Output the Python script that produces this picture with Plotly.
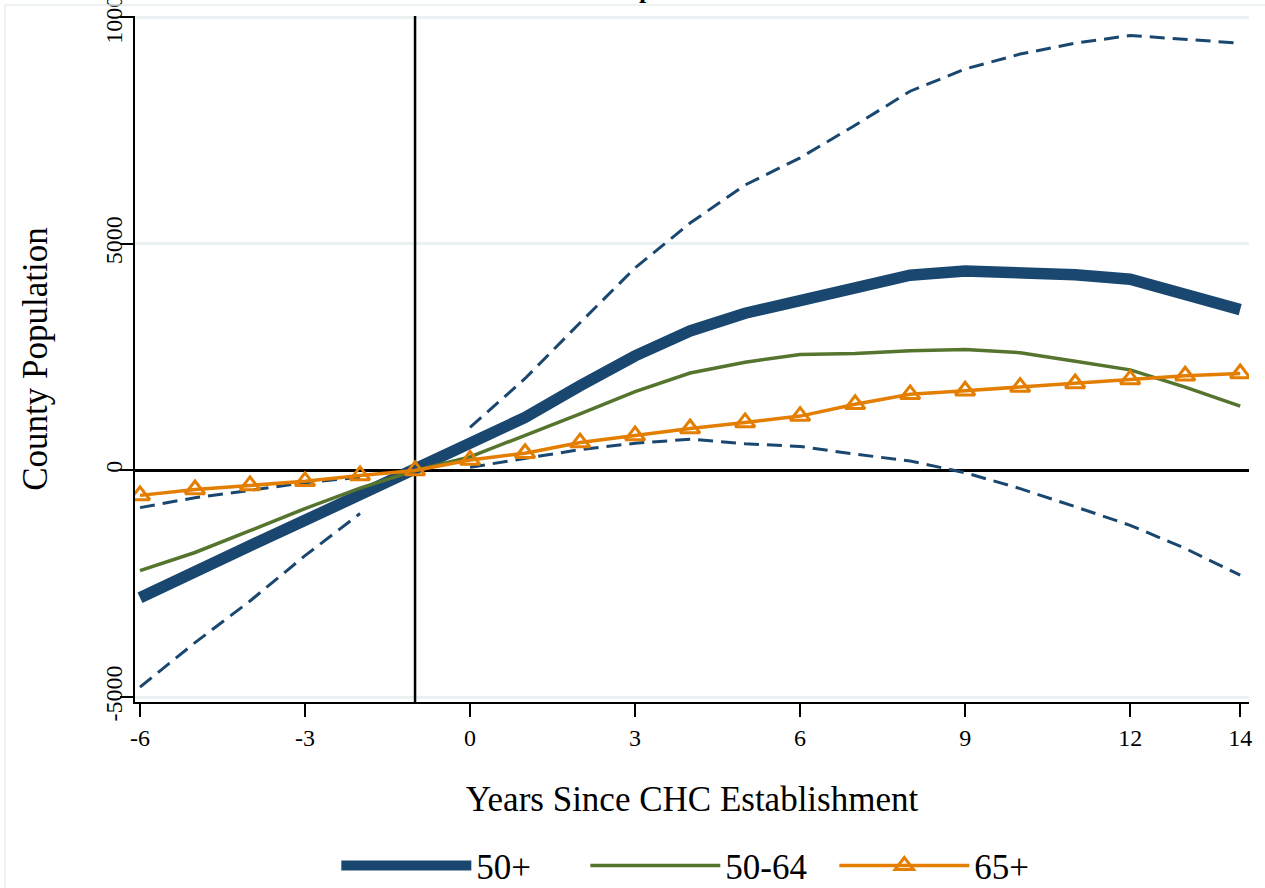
import plotly.graph_objects as go

# Event-study estimates: change in county population by years since CHC establishment
years = list(range(-6, 15))

pop_50plus = [-2810, -2210, -1660, -1100, -550, 0, 560, 1170, 1870, 2530, 3080,
              3470, 3750, 4000, 4310, 4400, 4390, 4320, 4220, 3910, 3550]
pop_50_64 = [-2210, -1810, -1330, -840, -390, 0, 300, 770, 1250, 1740, 2150,
             2390, 2560, 2580, 2640, 2670, 2600, 2410, 2220, 1840, 1420]
pop_65plus = [-550, -420, -330, -240, -110, 0, 230, 380, 615, 770, 925,
              1060, 1200, 1460, 1680, 1760, 1840, 1920, 2010, 2090, 2140]

# 95% confidence bounds for the 50+ estimate (reference year -1 omitted)
ci_upper = [-820, -600, -440, -270, -150, None, 950, 2030, 3260, 4470, 5460,
            6300, 6900, 7620, 8370, 8860, 9190, 9430, 9600, 9520, 9430]
ci_lower = [-4780, -3800, -2880, -1880, -950, None, 70, 260, 460, 600, 690,
            590, 530, 360, 210, -50, -400, -800, -1210, -1720, -2310]

ref_year = -1
x_range = [-6.091, 14.16]
y_range = [-5110, 10030]
x_ticks = [-6, -3, 0, 3, 6, 9, 12, 14]
y_ticks = [-5000, 0, 5000, 10000]

NAVY = "#1a476f"
GREEN = "#55752f"
ORANGE = "#e37e00"
GRID = "#e9f1f2"
SERIF = "Liberation Serif, Times New Roman, serif"

fig = go.Figure()

# Vertical marker for the year before establishment
fig.add_trace(go.Scatter(x=[ref_year, ref_year], y=y_range, mode="lines",
                         showlegend=False, hoverinfo="skip",
                         line=dict(color="black", width=2.5)))

fig.add_trace(go.Scatter(x=years, y=pop_50plus, mode="lines", name="50+",
                         line=dict(color=NAVY, width=11.5)))
fig.add_trace(go.Scatter(x=years, y=ci_upper, mode="lines", showlegend=False,
                         connectgaps=False,
                         line=dict(color=NAVY, width=3, dash="15px,8px")))
fig.add_trace(go.Scatter(x=years, y=ci_lower, mode="lines", showlegend=False,
                         connectgaps=False,
                         line=dict(color=NAVY, width=3, dash="15px,8px")))
fig.add_trace(go.Scatter(x=years, y=pop_50_64, mode="lines", name="50-64",
                         line=dict(color=GREEN, width=3.5)))
fig.add_trace(go.Scatter(x=years, y=pop_65plus, mode="lines+markers", name="65+",
                         line=dict(color=ORANGE, width=3.5),
                         marker=dict(symbol="triangle-up-open", size=17,
                                     color=ORANGE, line=dict(width=3, color=ORANGE))))

# Faint outer frame of the graph region
fig.add_shape(type="line", xref="paper", yref="paper",
              x0=-0.1167, x1=-0.1167, y0=1.016, y1=-0.3,
              line=dict(color="#e6eeef", width=1.5))
fig.add_shape(type="line", xref="paper", yref="paper",
              x0=-0.1167, x1=1.02, y0=1.016, y1=1.016,
              line=dict(color="#e6eeef", width=1.5))

fig.add_annotation(text="<b>Adult Populations</b>", xref="paper", yref="paper",
                   x=0.454, y=1.0146, xanchor="center", yanchor="bottom",
                   showarrow=False, font=dict(family=SERIF, size=26, color="black"))

fig.update_layout(
    width=1265, height=888,
    margin=dict(l=135, r=16, t=16, b=186, autoexpand=False),
    paper_bgcolor="white", plot_bgcolor="white",
    font=dict(family=SERIF, color="black"),
    showlegend=True,
    legend=dict(orientation="h", x=0.516, xanchor="center", xref="paper",
                y=0.025, yref="container", yanchor="middle", itemwidth=130,
                font=dict(family=SERIF, size=35, color="black"),
                traceorder="normal", entrywidth=104),
)

fig.update_xaxes(
    range=x_range, tickvals=x_ticks, ticktext=[str(v) for v in x_ticks],
    automargin=False,
    showgrid=False, zeroline=False, showline=True, linecolor="black", linewidth=1.5,
    ticks="outside", ticklen=13, tickwidth=1.5, tickcolor="black",
    tickfont=dict(family=SERIF, size=24, color="black"),
    title=dict(text="Years Since CHC Establishment", standoff=37,
               font=dict(family=SERIF, size=35, color="black")),
)
fig.update_yaxes(
    range=y_range, tickvals=y_ticks, ticktext=[str(v) for v in y_ticks],
    tickangle=-90, ticklabeloverflow="allow", ticklabelstandoff=-11,
    automargin=False,
    showgrid=True, gridcolor=GRID, gridwidth=2.5,
    zeroline=True, zerolinecolor="black", zerolinewidth=2.5,
    showline=True, linecolor="black", linewidth=1.5,
    ticks="outside", ticklen=13, tickwidth=1.5, tickcolor="black",
    tickfont=dict(family=SERIF, size=24, color="black"),
    title=dict(text="County Population", standoff=42,
               font=dict(family=SERIF, size=35, color="black")),
)

fig.write_html("out.html")
